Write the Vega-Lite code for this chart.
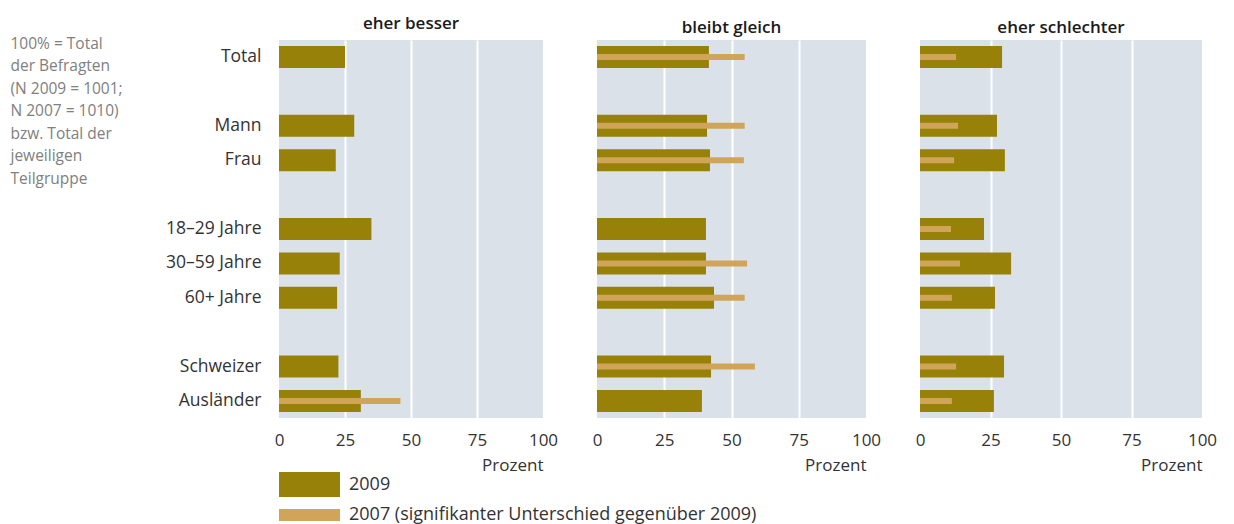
{
  "$schema": "https://vega.github.io/schema/vega-lite/v6.json",
  "background": "white",
  "padding": {"left": 10, "top": 15, "right": 20, "bottom": 0},
  "autosize": {"type": "pad"},
  "spacing": 34,
  "datasets": {
    "d": [
      {"panel": "eher besser", "group": "Total", "year": "2009", "value": 25},
      {"panel": "eher besser", "group": "Mann", "year": "2009", "value": 28.5},
      {"panel": "eher besser", "group": "Frau", "year": "2009", "value": 21.5},
      {"panel": "eher besser", "group": "18–29 Jahre", "year": "2009", "value": 35},
      {"panel": "eher besser", "group": "30–59 Jahre", "year": "2009", "value": 23},
      {"panel": "eher besser", "group": "60+ Jahre", "year": "2009", "value": 22},
      {"panel": "eher besser", "group": "Schweizer", "year": "2009", "value": 22.5},
      {"panel": "eher besser", "group": "Ausländer", "year": "2009", "value": 31},
      {"panel": "eher besser", "group": "Ausländer", "year": "2007", "value": 46},
      {"panel": "bleibt gleich", "group": "Total", "year": "2009", "value": 41.6},
      {"panel": "bleibt gleich", "group": "Mann", "year": "2009", "value": 40.9},
      {"panel": "bleibt gleich", "group": "Frau", "year": "2009", "value": 42},
      {"panel": "bleibt gleich", "group": "18–29 Jahre", "year": "2009", "value": 40.5},
      {"panel": "bleibt gleich", "group": "30–59 Jahre", "year": "2009", "value": 40.5},
      {"panel": "bleibt gleich", "group": "60+ Jahre", "year": "2009", "value": 43.5},
      {"panel": "bleibt gleich", "group": "Schweizer", "year": "2009", "value": 42.4},
      {"panel": "bleibt gleich", "group": "Ausländer", "year": "2009", "value": 39},
      {"panel": "bleibt gleich", "group": "Total", "year": "2007", "value": 54.9},
      {"panel": "bleibt gleich", "group": "Mann", "year": "2007", "value": 54.9},
      {"panel": "bleibt gleich", "group": "Frau", "year": "2007", "value": 54.6},
      {"panel": "bleibt gleich", "group": "30–59 Jahre", "year": "2007", "value": 55.8},
      {"panel": "bleibt gleich", "group": "60+ Jahre", "year": "2007", "value": 54.9},
      {"panel": "bleibt gleich", "group": "Schweizer", "year": "2007", "value": 58.7},
      {"panel": "eher schlechter", "group": "Total", "year": "2009", "value": 29.1},
      {"panel": "eher schlechter", "group": "Mann", "year": "2009", "value": 27.3},
      {"panel": "eher schlechter", "group": "Frau", "year": "2009", "value": 30.1},
      {"panel": "eher schlechter", "group": "18–29 Jahre", "year": "2009", "value": 22.7},
      {"panel": "eher schlechter", "group": "30–59 Jahre", "year": "2009", "value": 32.3},
      {"panel": "eher schlechter", "group": "60+ Jahre", "year": "2009", "value": 26.6},
      {"panel": "eher schlechter", "group": "Schweizer", "year": "2009", "value": 29.8},
      {"panel": "eher schlechter", "group": "Ausländer", "year": "2009", "value": 26.2},
      {"panel": "eher schlechter", "group": "Total", "year": "2007", "value": 12.8},
      {"panel": "eher schlechter", "group": "Mann", "year": "2007", "value": 13.5},
      {"panel": "eher schlechter", "group": "Frau", "year": "2007", "value": 12.1},
      {"panel": "eher schlechter", "group": "18–29 Jahre", "year": "2007", "value": 11},
      {"panel": "eher schlechter", "group": "30–59 Jahre", "year": "2007", "value": 14.2},
      {"panel": "eher schlechter", "group": "60+ Jahre", "year": "2007", "value": 11.3},
      {"panel": "eher schlechter", "group": "Schweizer", "year": "2007", "value": 12.8},
      {"panel": "eher schlechter", "group": "Ausländer", "year": "2007", "value": 11.3}
    ]
  },
  "data": {"name": "d"},
  "config": {
    "font": "Open Sans",
    "view": {"fill": "#dae1e8", "stroke": null},
    "title": {"font": "Open Sans", "fontSize": 17, "fontWeight": 600, "color": "#1a1a1a", "offset": 3, "anchor": "middle"},
    "axis": {"labelFont": "Open Sans", "titleFont": "Open Sans"},
    "legend": {"labelFont": "Open Sans", "labelFontSize": 18, "labelColor": "#333333", "labelLimit": 0, "padding": 0, "title": null, "symbolSize": 3721, "symbolStrokeWidth": 0, "symbolOpacity": 1, "labelOffset": 9}
  },
  "resolve": {"scale": {"x": "independent", "y": "independent"}},
  "hconcat": [
    {
      "width": 264, "height": 378,
      "title": "eher besser",
      "transform": [{"filter": "datum.panel === 'eher besser'"}],
      "encoding": {
        "y": {"field": "group", "type": "nominal",
          "scale": {"domain": ["Total", " ", "Mann", "Frau", "  ", "18–29 Jahre", "30–59 Jahre", "60+ Jahre", "   ", "Schweizer", "Ausländer"], "paddingInner": 0.36, "paddingOuter": 0.175},
          "axis": {"domain": false, "ticks": false, "labelPadding": 18, "labelFontSize": 17.5, "labelColor": "#333333",
            "title": ["100% = Total", "der Befragten", "(N 2009 = 1001;", "N 2007 = 1010)", "bzw. Total der", "jeweiligen", "Teilgruppe"],
            "titleAngle": 0, "titleAlign": "left", "titleBaseline": "top", "titleX": -269, "titleY": -4,
            "titleFontSize": 15.5, "titleFontWeight": "normal", "titleColor": "#808080", "titleLineHeight": 22.5}},
        "x": {"field": "value", "type": "quantitative", "scale": {"domain": [0, 100], "nice": false},
          "axis": {"values": [0, 25, 50, 75, 100], "domain": false, "ticks": false, "grid": true, "gridColor": "white", "gridWidth": 2,
            "gridOpacity": {"condition": {"test": "datum.value === 0 || datum.value === 100", "value": 0}, "value": 1},
            "labelFontSize": 17, "labelColor": "#333333", "labelPadding": 14, "labelFlush": false,
            "title": "Prozent", "titleAnchor": "end", "titleFontSize": 17, "titleFontWeight": "normal", "titleColor": "#333333", "titlePadding": 9}}
      },
      "layer": [
        {"transform": [{"filter": "datum.year === '2009'"}], "mark": {"type": "bar"},
          "encoding": {"color": {"field": "year", "type": "nominal", "scale": {"domain": ["2009"], "range": ["#978109"]},
            "legend": {"orient": "none", "legendX": 0, "legendY": 414, "symbolType": "M-1,-0.41H1V0.41H-1Z"}}}},
        {"transform": [{"filter": "datum.year === '2007'"}], "mark": {"type": "bar", "size": 6},
          "encoding": {"fill": {"field": "year", "type": "nominal", "scale": {"domain": ["2007"], "range": ["#d0a55a"]},
            "legend": {"orient": "none", "legendX": 0, "legendY": 444.5, "symbolType": "M-1,-0.2H1V0.2H-1Z",
              "labelExpr": "'2007 (signifikanter Unterschied gegenüber 2009)'"}}}}
      ]
    },
    {
      "width": 269, "height": 378,
      "title": "bleibt gleich",
      "transform": [{"filter": "datum.panel === 'bleibt gleich'"}],
      "encoding": {
        "y": {"field": "group", "type": "nominal",
          "scale": {"domain": ["Total", " ", "Mann", "Frau", "  ", "18–29 Jahre", "30–59 Jahre", "60+ Jahre", "   ", "Schweizer", "Ausländer"], "paddingInner": 0.36, "paddingOuter": 0.175},
          "axis": null},
        "x": {"field": "value", "type": "quantitative", "scale": {"domain": [0, 100], "nice": false},
          "axis": {"values": [0, 25, 50, 75, 100], "domain": false, "ticks": false, "grid": true, "gridColor": "white", "gridWidth": 2,
            "gridOpacity": {"condition": {"test": "datum.value === 0 || datum.value === 100", "value": 0}, "value": 1},
            "labelFontSize": 17, "labelColor": "#333333", "labelPadding": 14, "labelFlush": false,
            "title": "Prozent", "titleAnchor": "end", "titleFontSize": 17, "titleFontWeight": "normal", "titleColor": "#333333", "titlePadding": 9}}
      },
      "layer": [
        {"transform": [{"filter": "datum.year === '2009'"}], "mark": {"type": "bar"},
          "encoding": {"color": {"field": "year", "type": "nominal", "scale": {"domain": ["2009"], "range": ["#978109"]},
            "legend": {"orient": "none", "legendX": 0, "legendY": 414, "symbolType": "M-1,-0.41H1V0.41H-1Z"}}}},
        {"transform": [{"filter": "datum.year === '2007'"}], "mark": {"type": "bar", "size": 6},
          "encoding": {"fill": {"field": "year", "type": "nominal", "scale": {"domain": ["2007"], "range": ["#d0a55a"]},
            "legend": {"orient": "none", "legendX": 0, "legendY": 444.5, "symbolType": "M-1,-0.2H1V0.2H-1Z",
              "labelExpr": "'2007 (signifikanter Unterschied gegenüber 2009)'"}}}}
      ]
    },
    {
      "width": 282, "height": 378,
      "title": "eher schlechter",
      "transform": [{"filter": "datum.panel === 'eher schlechter'"}],
      "encoding": {
        "y": {"field": "group", "type": "nominal",
          "scale": {"domain": ["Total", " ", "Mann", "Frau", "  ", "18–29 Jahre", "30–59 Jahre", "60+ Jahre", "   ", "Schweizer", "Ausländer"], "paddingInner": 0.36, "paddingOuter": 0.175},
          "axis": null},
        "x": {"field": "value", "type": "quantitative", "scale": {"domain": [0, 100], "nice": false},
          "axis": {"values": [0, 25, 50, 75, 100], "domain": false, "ticks": false, "grid": true, "gridColor": "white", "gridWidth": 2,
            "gridOpacity": {"condition": {"test": "datum.value === 0 || datum.value === 100", "value": 0}, "value": 1},
            "labelFontSize": 17, "labelColor": "#333333", "labelPadding": 14, "labelFlush": false,
            "title": "Prozent", "titleAnchor": "end", "titleFontSize": 17, "titleFontWeight": "normal", "titleColor": "#333333", "titlePadding": 9}}
      },
      "layer": [
        {"transform": [{"filter": "datum.year === '2009'"}], "mark": {"type": "bar"},
          "encoding": {"color": {"field": "year", "type": "nominal", "scale": {"domain": ["2009"], "range": ["#978109"]},
            "legend": {"orient": "none", "legendX": 0, "legendY": 414, "symbolType": "M-1,-0.41H1V0.41H-1Z"}}}},
        {"transform": [{"filter": "datum.year === '2007'"}], "mark": {"type": "bar", "size": 6},
          "encoding": {"fill": {"field": "year", "type": "nominal", "scale": {"domain": ["2007"], "range": ["#d0a55a"]},
            "legend": {"orient": "none", "legendX": 0, "legendY": 444.5, "symbolType": "M-1,-0.2H1V0.2H-1Z",
              "labelExpr": "'2007 (signifikanter Unterschied gegenüber 2009)'"}}}}
      ]
    }
  ]
}
